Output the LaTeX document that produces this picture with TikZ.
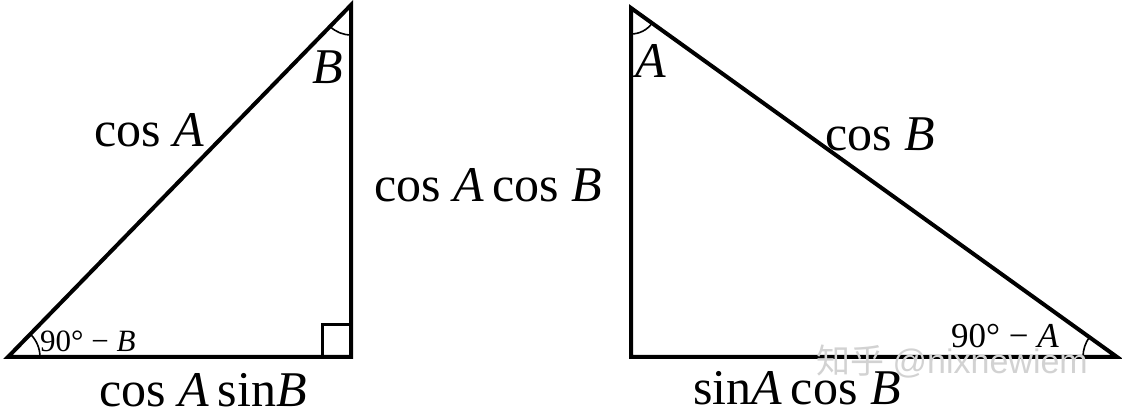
\documentclass[tikz,border=0pt]{standalone}
\usepackage{fontspec}
\setmainfont{Liberation Serif}
\newfontfamily\cjkfont{Noto Sans CJK SC}
\newfontfamily\wmfont{Liberation Sans}
\begin{document}
\begin{tikzpicture}[x=1pt,y=1pt,
  side/.style={line width=4pt, line join=miter},
  anglearc/.style={line width=1.6pt},
  biglabel/.style={font=\fontsize{50}{60}\selectfont, inner sep=0pt},
  smalllabel/.style={font=\fontsize{31}{36}\selectfont, inner sep=0pt},
  medlabel/.style={font=\fontsize{35}{40}\selectfont, inner sep=0pt},
  wm/.style={font=\fontsize{34}{40}\selectfont, text=gray!35, inner sep=0pt}]
\useasboundingbox (0,0) rectangle (1122,411);
% left triangle
\coordinate (L1) at (8,54);
\coordinate (L2) at (351,406);
\coordinate (L3) at (351,54);
\draw[side] (L1) -- (L2) -- (L3) -- cycle;
\draw[line width=3pt] (322,54) -- (322,86) -- (351,86);
\draw[anglearc] (L1) ++(32,0) arc[start angle=0, end angle=45.7, radius=32];
\draw[anglearc] (L2) ++(225.7:30) arc[start angle=225.7, end angle=270, radius=30];
\node[biglabel] (lcos) at (149,281) {cos \textit{A}};
\node[biglabel] (lB) at (328,344) {\textit{B}};
\node[smalllabel, anchor=west] (l90) at (40,70) {90° − \textit{B}};
\node[biglabel] (lbot) at (203,21) {cos \textit{A}\,sin\textit{B}};
\node[biglabel] (mid) at (488,226) {cos \textit{A}\,cos \textit{B}};
% right triangle
\coordinate (R1) at (631,403);
\coordinate (R2) at (631,54);
\coordinate (R3) at (1117,54);
\draw[side] (R1) -- (R2) -- (R3) -- cycle;
\draw[anglearc] (R1) ++(0,-26) arc[start angle=270, end angle=324.3, radius=26];
\draw[anglearc] (R3) ++(-34,0) arc[start angle=180, end angle=144.3, radius=34];
\node[biglabel] (rA) at (651,350) {\textit{A}};
\node[biglabel] (rcos) at (880,277) {cos \textit{B}};
\node[medlabel] (r90) at (1005,75) {90° − \textit{A}};
\node[biglabel] (rbot) at (797,23) {sin\textit{A}\,cos \textit{B}};
% watermark
\node[wm] (wmark) at (952,49) {{\cjkfont 知乎} {\wmfont @nixnewiem}};
\end{tikzpicture}
\end{document}
